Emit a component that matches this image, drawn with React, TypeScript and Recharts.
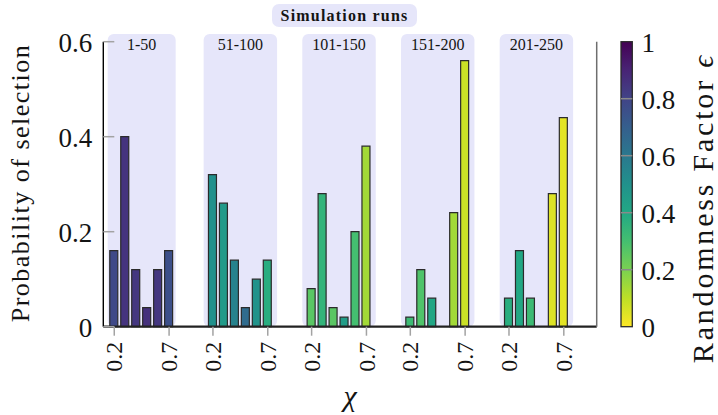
import { ComposedChart, Bar, Cell, XAxis, YAxis, ReferenceArea } from 'recharts';

// χ values tested inside every block of runs
const chiValues = [0.2, 0.3, 0.4, 0.5, 0.6, 0.7];
const chiTickValues = [0.2, 0.7];
const runLabels = ['1-50', '51-100', '101-150', '151-200', '201-250'];

// probability that each χ was selected (null = never selected)
const probRuns1 = [0.16, 0.4, 0.12, 0.04, 0.12, 0.16];
const probRuns2 = [0.32, 0.26, 0.14, 0.04, 0.1, 0.14];
const probRuns3 = [0.08, 0.28, 0.04, 0.02, 0.2, 0.38];
const probRuns4 = [0.02, 0.12, 0.06, null, 0.24, 0.56];
const probRuns5 = [0.06, 0.16, 0.06, null, 0.28, 0.44];

// randomness factor ε behind each bar (sets its colour)
const epsRuns1 = [0.78, 0.85, 0.84, 0.86, 0.84, 0.76];
const epsRuns2 = [0.5, 0.46, 0.56, 0.65, 0.49, 0.38];
const epsRuns3 = [0.26, 0.35, 0.26, 0.45, 0.3, 0.14];
const epsRuns4 = [0.32, 0.28, 0.41, null, 0.14, 0.08];
const epsRuns5 = [0.38, 0.4, 0.32, null, 0.05, 0.04];

const probTicks = [0, 0.2, 0.4, 0.6];
const epsTicks = [0, 0.2, 0.4, 0.6, 0.8, 1];

const probRuns = [probRuns1, probRuns2, probRuns3, probRuns4, probRuns5];
const epsRuns = [epsRuns1, epsRuns2, epsRuns3, epsRuns4, epsRuns5];

// each block of runs is laid out 0.9 χ-units after the previous one
const GROUP_STEP = 0.9;
const groupX = (g: number, chi: number) => Math.round((g * GROUP_STEP + chi) * 100) / 100;

const rows = probRuns.flatMap((probs, g) =>
  probs
    .map((p, i) => ({ x: groupX(g, chiValues[i]), p, eps: epsRuns[g][i] }))
    .filter((r) => r.p != null)
);

const xTicks = runLabels.flatMap((_, g) => chiTickValues.map((c) => groupX(g, c)));
const xTickLabel = new Map(
  runLabels.flatMap((_, g) => chiTickValues.map((c) => [groupX(g, c), c.toFixed(1)] as [number, string]))
);

const VIRIDIS = [
  '#440154', '#482475', '#414487', '#355f8d', '#2a788e', '#21918c',
  '#22a884', '#44bf70', '#7ad151', '#bddf26', '#fde725',
];

function viridis(t: number) {
  const s = Math.min(Math.max(t, 0), 1) * (VIRIDIS.length - 1);
  const i = Math.min(Math.floor(s), VIRIDIS.length - 2);
  const f = s - i;
  const a = VIRIDIS[i];
  const b = VIRIDIS[i + 1];
  const ch = (hex: string, k: number) => parseInt(hex.slice(1 + 2 * k, 3 + 2 * k), 16);
  const mix = [0, 1, 2].map((k) => Math.round(ch(a, k) + (ch(b, k) - ch(a, k)) * f));
  return `rgb(${mix.join(',')})`;
}

// colorbar runs from ε = 1 (top, dark) down to ε = 0 (yellow)
const epsColor = (eps: number) => viridis(1 - eps);

const SERIF = '"Liberation Serif", "Times New Roman", serif';
const INK = '#141414';
const TICK_GREY = '#a3a3a3';
const BOX_FILL = '#e6e6fa';

// plot frame in pixels, shared with the colorbar overlay
const PLOT_TOP = 41.7;
const PLOT_BOTTOM = 326.7;
const BAR_LEFT = 621;
const BAR_WIDTH = 11.3;

const fmt = (v: number) => String(v);

function LeftTick(props: any) {
  const { x, y, payload } = props;
  const axisX = x + 11;
  return (
    <g>
      <line x1={axisX} x2={axisX + 11} y1={y} y2={y} stroke={TICK_GREY} strokeWidth={1.5} />
      <text x={x} y={y} dy={10.5} textAnchor="end" fontSize={27} fontFamily={SERIF} fill={INK}>
        {fmt(payload.value)}
      </text>
    </g>
  );
}

function RightFrameTick(props: any) {
  const { x, y } = props;
  return <line x1={x - 11} x2={x} y1={y} y2={y} stroke={TICK_GREY} strokeWidth={1.5} />;
}

function ChiTick(props: any) {
  const { x, y, payload } = props;
  return (
    <text
      transform={`rotate(-90, ${x}, ${y})`}
      x={x}
      y={y}
      dy="0.34em"
      textAnchor="end"
      fontSize={24}
      fontFamily={SERIF}
      fill={INK}
    >
      {xTickLabel.get(payload.value) ?? ''}
    </text>
  );
}

const RoundedBox = (p: any) => (
  <rect x={p.x} y={p.y} width={p.width} height={p.height} rx={6} ry={6} fill={BOX_FILL} />
);

const yLabel = () => (
  <text transform="translate(28.5,183) rotate(-90)" textAnchor="middle" fontSize={26}
    letterSpacing={1.5} fontFamily={SERIF} fill={INK}>
    Probability of selection
  </text>
);

const xLabel = () => (
  <text x={350} y={406} textAnchor="middle" fontSize={30} fontStyle="italic" fontFamily={SERIF} fill={INK}>
    χ
  </text>
);

function Colorbar() {
  const h = PLOT_BOTTOM - PLOT_TOP;
  const yOf = (v: number) => PLOT_BOTTOM - v * h;
  return (
    <svg
      width={718}
      height={415}
      style={{ position: 'absolute', left: 0, top: 0, pointerEvents: 'none' }}
    >
      <defs>
        <linearGradient id="viridisBar" x1="0" y1="0" x2="0" y2="1">
          {VIRIDIS.map((c, i) => (
            <stop key={c} offset={`${(i / (VIRIDIS.length - 1)) * 100}%`} stopColor={c} />
          ))}
        </linearGradient>
      </defs>
      <rect x={BAR_LEFT} y={PLOT_TOP} width={BAR_WIDTH} height={h} fill="url(#viridisBar)"
        stroke="#2a2a2a" strokeWidth={1.3} />
      {epsTicks.map((v) => (
        <g key={v}>
          {v > 0 && v < 1 && (
            <line x1={BAR_LEFT} x2={BAR_LEFT + BAR_WIDTH} y1={yOf(v)} y2={yOf(v)}
              stroke="#8a8a8a" strokeWidth={1.5} />
          )}
          <text x={641.5} y={yOf(v)} dy={10.5} fontSize={27} fontFamily={SERIF} fill={INK}>
            {fmt(v)}
          </text>
        </g>
      ))}
      <text transform="translate(712.5,208) rotate(-90)" textAnchor="middle" fontSize={30}
        letterSpacing={2.8} fontFamily={SERIF} fill={INK}>
        Randomness Factor <tspan fontStyle="italic">ϵ</tspan>
      </text>
    </svg>
  );
}

export default function App() {
  return (
    <div style={{ position: 'absolute', left: 0, top: 0, width: 718, height: 415, background: '#fff' }}>
      <div
        style={{
          position: 'absolute',
          left: 272,
          top: 4,
          width: 145,
          height: 23,
          borderRadius: 7,
          background: BOX_FILL,
          fontFamily: SERIF,
          fontWeight: 'bold',
          fontSize: 16,
          letterSpacing: 1.2,
          lineHeight: '23px',
          textAlign: 'center',
          color: INK,
        }}
      >
        Simulation runs
      </div>
      <ComposedChart
        width={718}
        height={415}
        data={rows}
        margin={{ top: PLOT_TOP, right: 7.3, bottom: 28.3, left: 43.3 }}
      >
        <XAxis
          dataKey="x"
          type="number"
          domain={[0.1, 4.6]}
          ticks={xTicks}
          interval={0}
          height={60}
          tickSize={9}
          tickMargin={6}
          tickLine={{ stroke: TICK_GREY, strokeWidth: 1.5 }}
          axisLine={{ stroke: '#222', strokeWidth: 2.2 }}
          tick={<ChiTick />}
          label={xLabel}
        />
        <YAxis
          yAxisId="prob"
          domain={[0, 0.6]}
          ticks={probTicks}
          width={60}
          tickSize={0}
          tickMargin={11}
          tickLine={false}
          axisLine={{ stroke: '#000', strokeWidth: 1.4 }}
          tick={<LeftTick />}
          label={yLabel}
        />
        <YAxis
          yAxisId="frame"
          orientation="right"
          domain={[0, 0.6]}
          ticks={probTicks}
          width={114}
          tickSize={0}
          tickMargin={0}
          tickLine={false}
          axisLine={{ stroke: '#6e6e6e', strokeWidth: 1.5 }}
          tick={<RightFrameTick />}
        />
        {runLabels.map((label, g) => {
          const center = groupX(g, 0.45);
          const half = g === 0 ? 0.31 : 0.335;
          return (
            <ReferenceArea
              key={label}
              yAxisId="prob"
              x1={center - half}
              x2={center + half}
              y1={0}
              y2={0.616}
              ifOverflow="visible"
              shape={RoundedBox}
              label={{
                value: label,
                position: 'insideTop',
                offset: 5,
                fontSize: 16,
                fontFamily: SERIF,
                fill: INK,
              }}
            />
          );
        })}
        <Bar
          yAxisId="prob"
          dataKey="p"
          barSize={8}
          stroke="#2b2b2b"
          strokeWidth={1.2}
          isAnimationActive={false}
        >
          {rows.map((r) => (
            <Cell key={r.x} fill={epsColor(r.eps as number)} />
          ))}
        </Bar>
      </ComposedChart>
      <Colorbar />
    </div>
  );
}
